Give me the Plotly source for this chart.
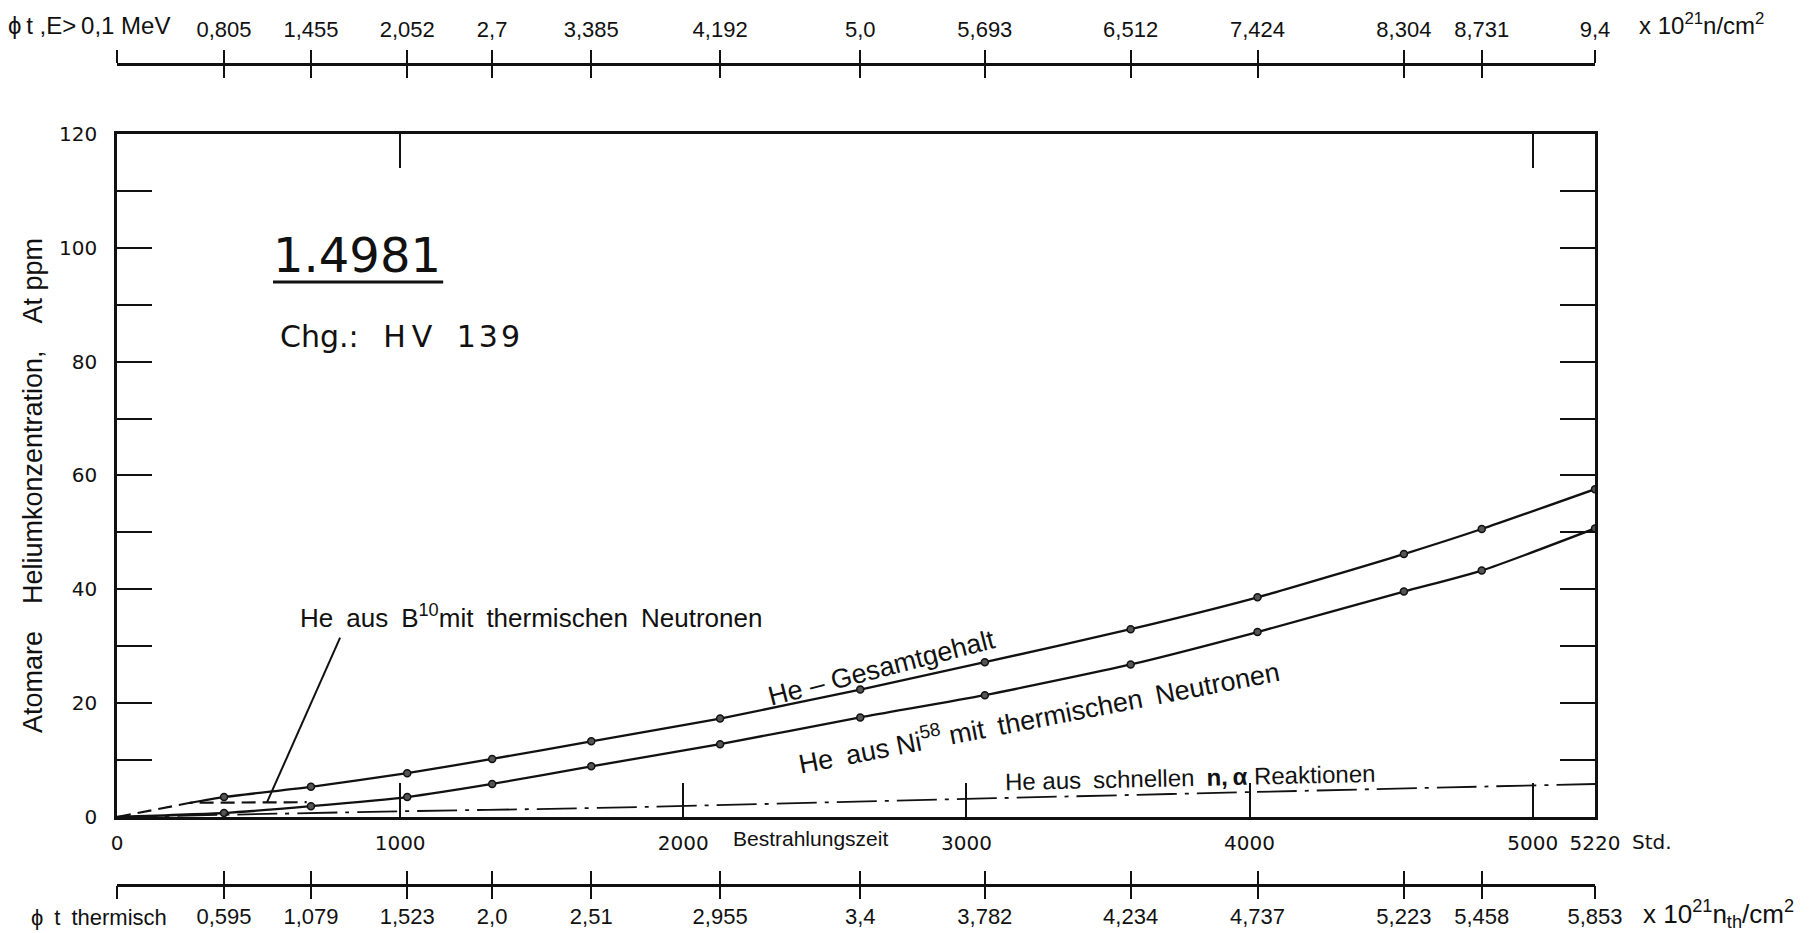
import plotly.graph_objects as go

# ---------------- data ----------------
hours = [0, 378, 685, 1025, 1325, 1675, 2130, 2625, 3065, 3580, 4028, 4545, 4820, 5220]
he_total = [None, 3.5, 5.3, 7.7, 10.2, 13.3, 17.3, 22.4, 27.2, 33.0, 38.6, 46.2, 50.6, 57.6]
he_ni58 = [0, 0.7, 1.9, 3.5, 5.8, 8.9, 12.8, 17.5, 21.4, 26.8, 32.5, 39.6, 43.3, 50.7]

b10_hours = [0, 258, 670]
he_b10 = [0, 2.5, 2.6]

fast_hours = [0, 1000, 1700, 3100, 4700, 5220]
he_fast = [0, 1.0, 1.6, 3.3, 5.2, 5.8]

fast_fluence_labels = ["", "0,805", "1,455", "2,052", "2,7", "3,385", "4,192", "5,0",
                       "5,693", "6,512", "7,424", "8,304", "8,731", "9,4"]
thermal_fluence_labels = ["", "0,595", "1,079", "1,523", "2,0", "2,51", "2,955", "3,4",
                          "3,782", "4,234", "4,737", "5,223", "5,458", "5,853"]

time_ticks = [0, 1000, 2000, 3000, 4000, 5000, 5220]
time_tick_text = ["0", "1000", "2000", "3000", "4000", "5000", "5220"]
top_border_ticks = [1000, 5000]
y_ticks = list(range(0, 121, 10))
y_tick_text = [str(v) if v % 20 == 0 else "" for v in y_ticks]

# ---------------- figure ----------------
FONT = "Liberation Sans"
NUMFONT = "DejaVu Sans"
BLACK = "#111111"
XR = [0, 5220]

fig = go.Figure()

# He - Gesamtgehalt (solid part starts where the B10 curve saturates)
tot_x = [b10_hours[1]] + hours[1:]
tot_y = [he_b10[1]] + he_total[1:]
fig.add_trace(go.Scatter(x=tot_x, y=tot_y, mode="lines",
                         line=dict(color=BLACK, width=2.3, shape="spline", smoothing=0.6),
                         hoverinfo="skip", showlegend=False))
fig.add_trace(go.Scatter(x=hours[1:], y=he_total[1:], mode="markers",
                         marker=dict(size=7, color="#555555", line=dict(color=BLACK, width=1.5)),
                         showlegend=False))
# He aus Ni58
fig.add_trace(go.Scatter(x=hours, y=he_ni58, mode="lines",
                         line=dict(color=BLACK, width=2.3, shape="spline", smoothing=0.6),
                         hoverinfo="skip", showlegend=False))
fig.add_trace(go.Scatter(x=hours[1:], y=he_ni58[1:], mode="markers",
                         marker=dict(size=7, color="#555555", line=dict(color=BLACK, width=1.5)),
                         showlegend=False))
# He aus B10 (dashed)
fig.add_trace(go.Scatter(x=b10_hours, y=he_b10, mode="lines",
                         line=dict(color=BLACK, width=2.2, dash="14px,7px"), showlegend=False))
# He aus schnellen n,alpha (dash-dot)
fig.add_trace(go.Scatter(x=fast_hours, y=he_fast, mode="lines",
                         line=dict(color=BLACK, width=1.8, dash="40px,8px,4px,8px", shape="spline"),
                         showlegend=False))

# dummy traces so that the extra axes are rendered
for ax in ["x2", "x3", "x4", "x5", "x6"]:
    fig.add_trace(go.Scatter(x=[hours[0]], y=[he_ni58[0]], xaxis=ax, yaxis="y", mode="markers",
                             marker=dict(opacity=0), hoverinfo="skip", showlegend=False))

Y_DOM = [0.1161, 0.8642]
TOP_POS = 0.9409
BOT_POS = 0.0421

common_x = dict(range=XR, showgrid=False, zeroline=False, tickcolor=BLACK, tickwidth=2,
                tickfont=dict(family=FONT, size=22, color=BLACK), linecolor=BLACK, automargin=False)

fig.update_layout(
    width=1816, height=933,
    margin=dict(l=117, r=221, t=10, b=10, autoexpand=False),
    paper_bgcolor="white", plot_bgcolor="white",
    font=dict(family=FONT, color=BLACK),
    xaxis=dict(**{**common_x, "tickfont": dict(family=NUMFONT, size=20, color=BLACK)},
               domain=[0, 1], anchor="y", tickmode="array", tickvals=time_ticks, ticktext=time_tick_text,
               ticks="inside", ticklen=34, showline=True, linewidth=2.5, mirror=True, ticklabelstandoff=6),
    yaxis=dict(range=[0, 120], domain=Y_DOM, showgrid=False, zeroline=False, automargin=False,
               tickmode="array", tickvals=y_ticks, ticktext=y_tick_text,
               ticks="inside", ticklen=35, tickwidth=2, tickcolor=BLACK, mirror="ticks",
               showline=True, linewidth=2.5, linecolor=BLACK, ticklabelstandoff=13,
               tickfont=dict(family=NUMFONT, size=20, color=BLACK)),
    xaxis6=dict(**common_x, overlaying="x", anchor="y", side="top", tickmode="array",
                tickvals=top_border_ticks, ticks="inside", ticklen=34, showticklabels=False, showline=False),
    xaxis2=dict(**common_x, overlaying="x", anchor="free", position=TOP_POS, side="top",
                tickmode="array", tickvals=hours, ticktext=fast_fluence_labels,
                ticks="outside", ticklen=13, showline=True, linewidth=2.5, ticklabelstandoff=4),
    xaxis4=dict(**common_x, overlaying="x", anchor="free", position=TOP_POS, side="top",
                tickmode="array", tickvals=hours, ticks="inside", ticklen=13,
                showticklabels=False, showline=False),
    xaxis3=dict(**common_x, overlaying="x", anchor="free", position=BOT_POS, side="bottom",
                tickmode="array", tickvals=hours, ticktext=thermal_fluence_labels,
                ticks="outside", ticklen=13, showline=True, linewidth=2.5, ticklabelstandoff=-2),
    xaxis5=dict(**common_x, overlaying="x", anchor="free", position=BOT_POS, side="bottom",
                tickmode="array", tickvals=hours, ticks="inside", ticklen=14,
                showticklabels=False, showline=False),
)

ann = []
def A(text, x, y, size=21, xref="x", yref="y", xanchor="center", yanchor="middle", angle=0, family=FONT):
    ann.append(dict(text=text, x=x, y=y, xref=xref, yref=yref, xanchor=xanchor, yanchor=yanchor,
                    textangle=angle, showarrow=False, font=dict(family=family, size=size, color=BLACK)))

GAP = "\u2003"
A("1.4981", 848, 98.8, size=48, family=NUMFONT)
A("Chg.:\u2002 H\u2009V\u2002 1\u200a3\u200a9", 569, 84.5, size=30, xanchor="left", family=NUMFONT)
A("He\u2002aus\u2002B<sup>10</sup>mit\u2002thermischen\u2002Neutronen", 640, 35.2, size=26, xanchor="left")
A("He \u2013 Gesamtgehalt", 2700, 26.2, size=27, angle=-14.5)
A("He\u2002aus Ni<sup>58</sup> mit\u2002thermischen\u2002Neutronen", 3255, 17.8, size=27, angle=-11)
A("He aus\u2002schnellen\u2002<b>n,\u2009\u03b1</b> Reaktionen", 3790, 6.9, size=24, angle=-1.3)
A("Bestrahlungszeit", 2448, 0.093, size=21, yref="paper")
A("Std.", 1.0237, 0.0885, size=20, xref="paper", yref="paper", xanchor="left", family=NUMFONT)
A("Atomare" + GAP + "Heliumkonzentration," + GAP + "At ppm", -0.0568, 0.4786, size=27,
  xref="paper", yref="paper", angle=-90)
A("\u03d5\u2009t ,E>\u20090,1 MeV", -0.0751, 0.9825, size=24, xref="paper", yref="paper", xanchor="left")
A("x 10<sup>21</sup>n/cm<sup>2</sup>", 1.0285, 0.985, size=24, xref="paper", yref="paper", xanchor="left")
A("\u03d5\u2002t\u2002thermisch", -0.0595, 0.0055, size=22, xref="paper", yref="paper", xanchor="left")
A("x 10<sup>21</sup>n<sub>th</sub>/cm<sup>2</sup>", 1.0312, 0.010, size=26, xref="paper", yref="paper",
  xanchor="left")
fig.update_layout(annotations=ann)

# underline of the report number and pointer to the B10 curve
fig.add_shape(type="line", xref="x", yref="y", x0=551, x1=1152, y0=94.0, y1=94.0,
              line=dict(color=BLACK, width=3))
fig.add_shape(type="line", xref="x", yref="y", x0=788, y0=31.5, x1=530, y1=2.6,
              line=dict(color=BLACK, width=2))

fig.write_html("out.html")
